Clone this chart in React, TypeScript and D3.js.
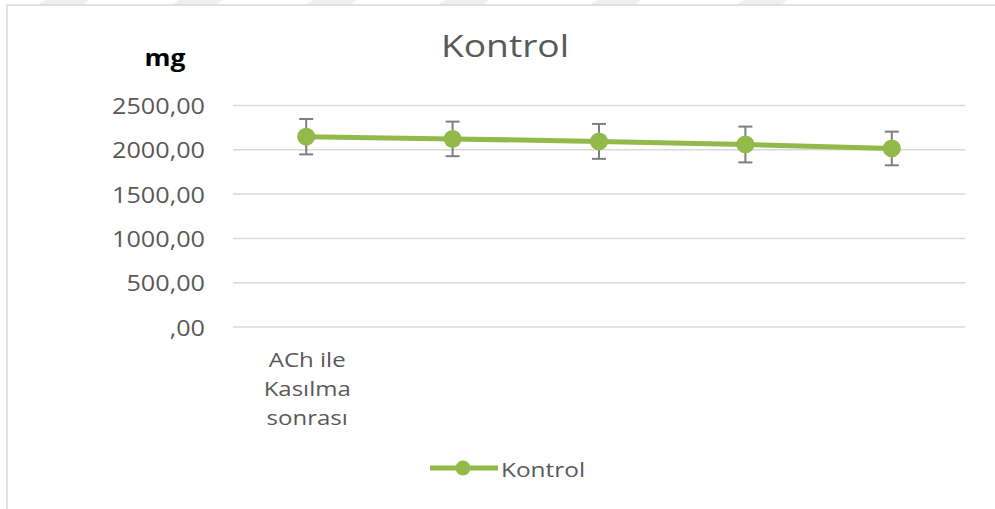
import React from "react";
import * as d3 from "d3";

// Series data
const categories: string[] = ["ACh ile\nKasılma\nsonrası", "", "", "", ""];
const meanValues: number[] = [2148, 2123, 2095, 2060, 2015];
const errorValues: number[] = [200, 195, 197, 202, 190];
const yTicks: number[] = [0, 500, 1000, 1500, 2000, 2500];
const seriesName = "Kontrol";
const chartTitle = "Kontrol";
const axisTitle = "mg";

const W = 995;
const H = 509;
const GREEN = "#93b94a";
const TEXT = "#595959";

const fmt = (v: number) => {
  const s = v.toFixed(2).replace(".", ",");
  return s.startsWith("0,") ? s.slice(1) : s;
};

// Text drawn with a horizontal stretch about its anchor point
function WideText(props: {
  x: number;
  y: number;
  sx: number;
  size: number;
  anchor?: "start" | "middle" | "end";
  weight?: string;
  fill?: string;
  children: React.ReactNode;
}) {
  const { x, y, sx, size, anchor = "start", weight = "normal", fill = TEXT, children } = props;
  return (
    <text
      transform={`translate(${x},${y}) scale(${sx},1)`}
      textAnchor={anchor}
      fontSize={size}
      fontWeight={weight}
      fill={fill}
    >
      {children}
    </text>
  );
}

export default function App() {
  const x = d3.scaleBand<number>().domain(d3.range(categories.length)).range([233, 965]);
  const y = d3.scaleLinear().domain([0, 2500]).range([327, 105.5]);
  const cx = (i: number) => (x(i) as number) + x.bandwidth() / 2;

  const line = d3
    .line<number>()
    .x((_, i) => cx(i))
    .y((d) => y(d));

  // faint diagonal bands along the top edge
  const bandStarts = [38, 171, 305, 438, 590, 736];

  return (
    <svg
      width={W}
      height={H}
      style={{ position: "absolute", left: 0, top: 0, background: "#fff" }}
      fontFamily="'Open Sans', sans-serif"
    >
      {bandStarts.map((b, i) => (
        <polygon key={i} points={`${b + 8},0 ${b + 52},0 ${b + 44},5 ${b},5`} fill="#f0f0f0" />
      ))}
      <line x1={7} y1={5} x2={W} y2={5} stroke="#d9d9d9" strokeWidth={1.5} />
      <line x1={7} y1={5} x2={7} y2={H} stroke="#d9d9d9" strokeWidth={1.5} />

      <WideText x={505} y={57} sx={1.2} size={31} anchor="middle">
        {chartTitle}
      </WideText>
      <WideText x={165} y={66} sx={1.15} size={23} anchor="middle" weight="bold" fill="#000">
        {axisTitle}
      </WideText>

      {yTicks.map((t) => (
        <g key={t}>
          <line x1={233} x2={965} y1={y(t)} y2={y(t)} stroke="#d9d9d9" strokeWidth={1.5} />
          <WideText x={205} y={y(t) + 8.5} sx={1.2} size={21} anchor="end">
            {fmt(t)}
          </WideText>
        </g>
      ))}

      {categories.map((c, i) =>
        c.split("\n").map((ln, j) =>
          ln ? (
            <WideText key={`${i}-${j}`} x={cx(i) + 1} y={367 + j * 29} sx={1.2} size={20} anchor="middle">
              {ln}
            </WideText>
          ) : null
        )
      )}

      <path d={line(meanValues) || ""} fill="none" stroke={GREEN} strokeWidth={5} strokeLinejoin="round" />

      {meanValues.map((v, i) => {
        const e = errorValues[i];
        const px = cx(i);
        return (
          <g key={i} stroke="#7f7f7f" strokeWidth={2}>
            <line x1={px} x2={px} y1={y(v + e)} y2={y(v - e)} />
            <line x1={px - 7} x2={px + 7} y1={y(v + e)} y2={y(v + e)} />
            <line x1={px - 7} x2={px + 7} y1={y(v - e)} y2={y(v - e)} />
          </g>
        );
      })}
      {meanValues.map((v, i) => (
        <circle key={i} cx={cx(i)} cy={y(v)} r={9} fill={GREEN} />
      ))}

      <g>
        <line x1={430} x2={498} y1={468} y2={468} stroke={GREEN} strokeWidth={5} />
        <circle cx={463} cy={468} r={7.5} fill={GREEN} />
        <WideText x={501} y={477} sx={1.22} size={20}>
          {seriesName}
        </WideText>
      </g>
    </svg>
  );
}
